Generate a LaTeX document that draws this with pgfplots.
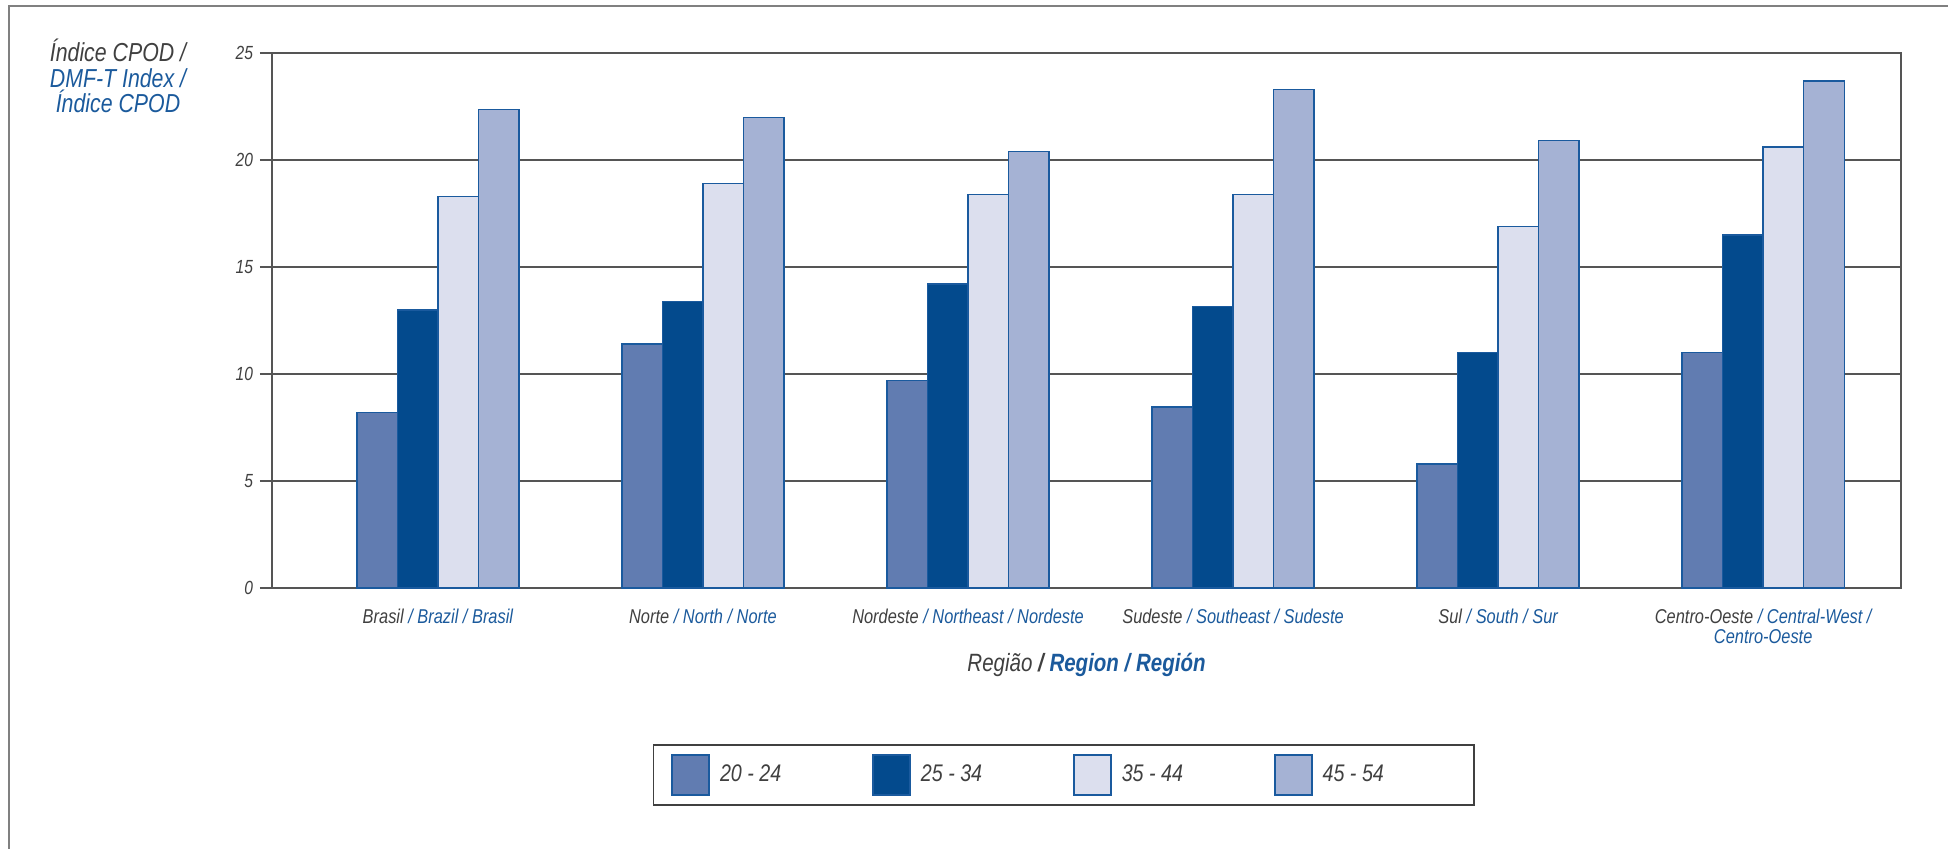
\documentclass[border=0pt]{standalone}
\usepackage{pgfplots}
\pgfplotsset{compat=1.18}
\usepackage{fontspec}
\setmainfont{Liberation Sans}[FakeStretch=0.82]
\definecolor{cA}{HTML}{617CB1}
\definecolor{cB}{HTML}{034A8D}
\definecolor{cC}{HTML}{DCDFEE}
\definecolor{cD}{HTML}{A5B2D4}
\definecolor{edge}{HTML}{1A5A9E}
\definecolor{txtblue}{HTML}{1B5A9C}
\definecolor{txtgray}{HTML}{404040}
\definecolor{gridc}{HTML}{555555}
\definecolor{framec}{HTML}{808080}
\begin{document}
\begin{tikzpicture}
\useasboundingbox (-136pt,-130pt) rectangle (838pt,294pt);
\draw[framec, line width=1pt] (-131.5pt,-131pt) -- (-131.5pt,291pt) -- (839pt,291pt);
\begin{axis}[
  at={(0,0)}, anchor=south west,
  scale only axis, width=814.5pt, height=267.5pt,
  xmin=-0.626, xmax=5.52, ymin=0, ymax=25,
  ybar=0pt, bar width=20.25pt,
  ytick={0,5,...,25},
  ytick pos=left,
  xtick={0,...,5},
  xticklabels={
    {Brasil \textcolor{txtblue}{/ Brazil / Brasil}},
    {Norte \textcolor{txtblue}{/ North / Norte}},
    {Nordeste \textcolor{txtblue}{/ Northeast / Nordeste}},
    {Sudeste \textcolor{txtblue}{/ Southeast / Sudeste}},
    {Sul \textcolor{txtblue}{/ South / Sur}},
    {Centro-Oeste \textcolor{txtblue}{/ Central-West /}\\\textcolor{txtblue}{Centro-Oeste}}
  },
  /pgf/number format/assume math mode=true,
  xtick style={draw=none},
  ytick style={draw=gridc, line width=0.8pt},
  tick align=outside, major tick length=6pt,
  ymajorgrids, grid style={gridc, line width=0.8pt},
  axis line style={gridc, line width=0.8pt},
  y tick label style={font=\itshape\fontsize{9.5}{11}\selectfont, text=txtgray},
  x tick label style={font=\itshape\fontsize{10}{10}\selectfont, text=txtgray, align=center, anchor=north, yshift=-1pt},
  xlabel={\textcolor{txtgray}{Região} \textbf{\textcolor{txtgray}{/} \textcolor{txtblue}{Region / Región}}},
  xlabel style={at={(axis description cs:0.5,-0.144)}, anchor=center, font=\itshape\fontsize{12.5}{14}\selectfont},
  legend columns=4,
  legend image code/.code={\draw[#1, draw=edge, line width=0.8pt] (0pt,-10pt) rectangle (18.5pt,10pt);},
  legend style={at={(0.486,-0.3495)}, anchor=center, draw=txtgray, line width=0.8pt,
    font=\itshape\fontsize{12}{14}\selectfont, text=txtgray, inner xsep=9pt, inner ysep=4.5pt,
    /tikz/every odd column/.append style={column sep=3pt},
    /tikz/every even column/.append style={column sep=43.5pt}},
  legend cell align=left,
]
\addplot[fill=cA, draw=edge, line width=0.7pt] coordinates {(0,8.2) (1,11.4) (2,9.7) (3,8.45) (4,5.8) (5,11.0)};
\addplot[fill=cB, draw=edge, line width=0.7pt] coordinates {(0,13.0) (1,13.4) (2,14.2) (3,13.15) (4,11.0) (5,16.5)};
\addplot[fill=cC, draw=edge, line width=0.7pt] coordinates {(0,18.3) (1,18.9) (2,18.4) (3,18.4) (4,16.9) (5,20.6)};
\addplot[fill=cD, draw=edge, line width=0.7pt] coordinates {(0,22.35) (1,22.0) (2,20.4) (3,23.3) (4,20.9) (5,23.7)};
\legend{20 - 24, 25 - 34, 35 - 44, 45 - 54\rule{34pt}{0pt}}
\end{axis}
\node[align=center, font=\itshape\fontsize{13}{12.7}\selectfont] at (-77pt,256pt)
  {\textcolor{txtgray}{Índice CPOD /}\\\textcolor{txtblue}{DMF-T Index /}\\\textcolor{txtblue}{Índice CPOD}};
\end{tikzpicture}
\end{document}
